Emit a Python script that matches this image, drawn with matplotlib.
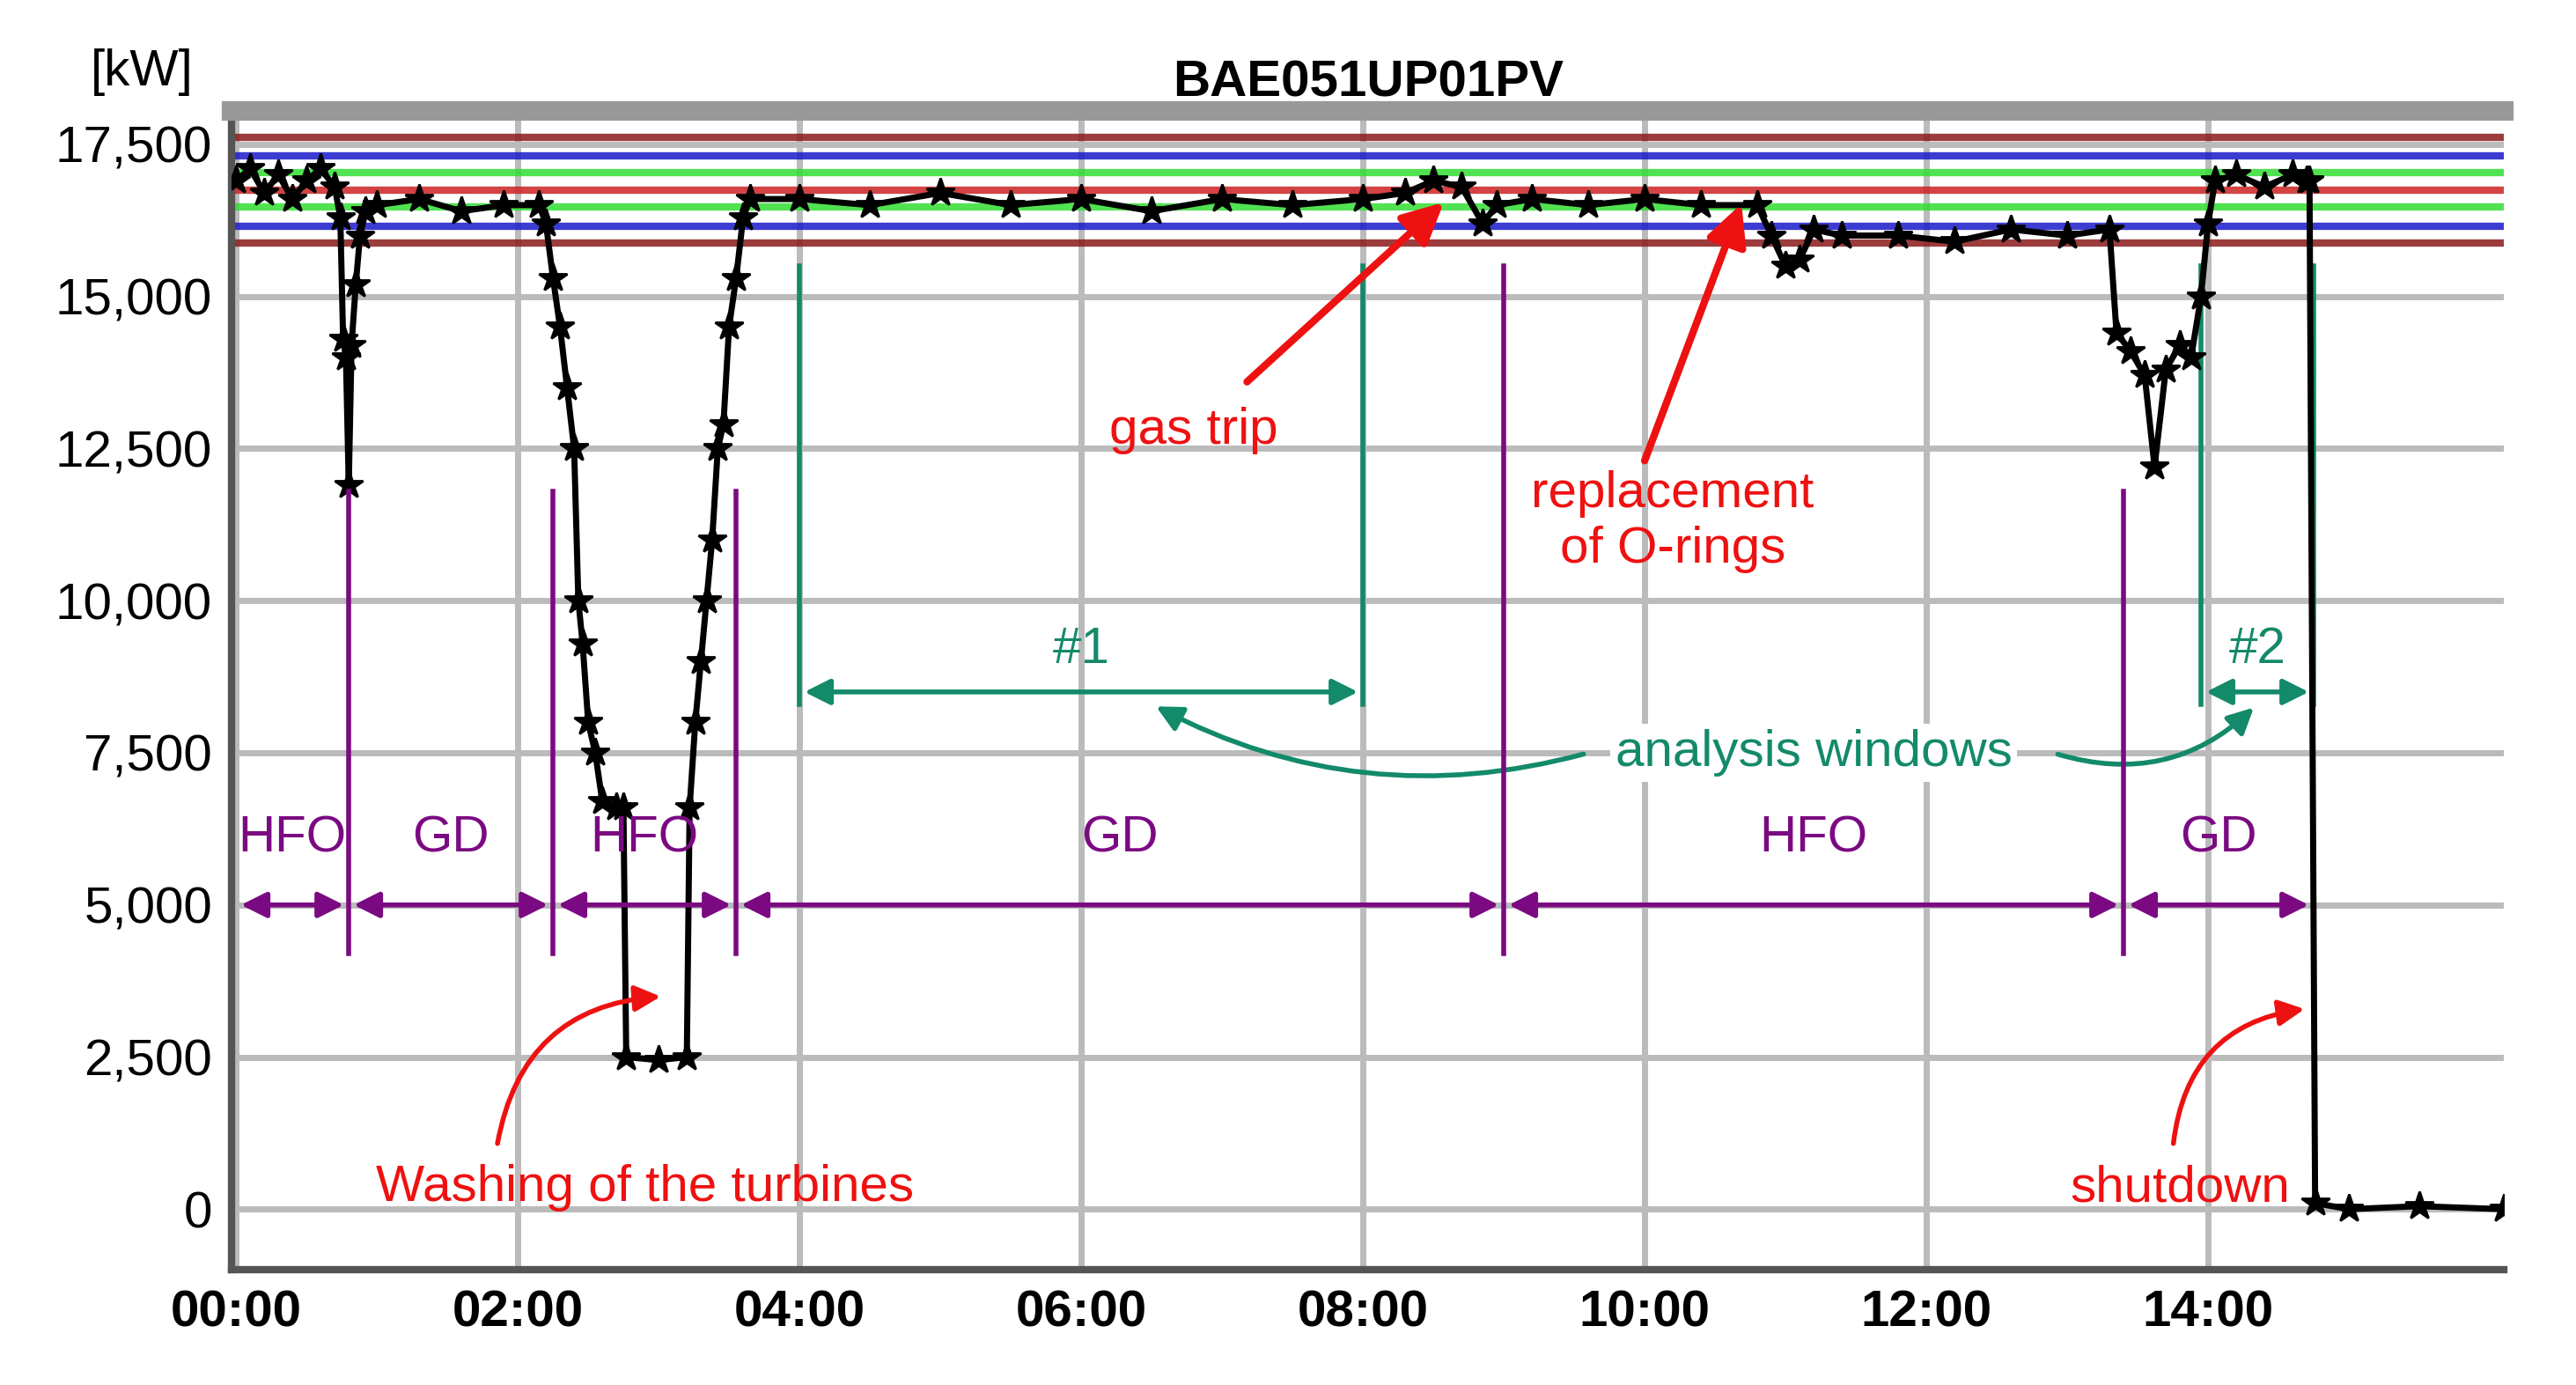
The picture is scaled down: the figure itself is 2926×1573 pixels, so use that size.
import matplotlib.pyplot as plt

# power trace [h, kW]
t_power = [0.0, 0.1, 0.2, 0.3, 0.4, 0.5, 0.6, 0.7, 0.74, 0.76, 0.78, 0.8, 0.82, 0.85, 0.88, 0.92,
           1.0, 1.3, 1.6, 1.9, 2.15, 2.2, 2.25, 2.3, 2.35, 2.4, 2.43, 2.46, 2.5, 2.55, 2.6, 2.7,
           2.75, 2.77, 3.0, 3.2, 3.22, 3.26, 3.3, 3.34, 3.38, 3.42, 3.46, 3.5, 3.55, 3.6, 3.65,
           4.0, 4.5, 5.0, 5.5, 6.0, 6.5, 7.0, 7.5, 8.0, 8.3, 8.5, 8.7, 8.85, 8.95, 9.2, 9.6,
           10.0, 10.4, 10.8, 10.9, 11.0, 11.1, 11.2, 11.4, 11.8, 12.2, 12.6, 13.0, 13.3, 13.35,
           13.45, 13.55, 13.62, 13.7, 13.8, 13.88, 13.95, 14.0, 14.05, 14.2, 14.4, 14.6, 14.7,
           14.72, 14.76, 15.0, 15.5, 16.1]
p_power = [16900, 17100, 16700, 17000, 16600, 16900, 17100, 16800, 16300, 14300, 14000, 11900, 14200, 15200, 16000, 16400,
           16500, 16600, 16400, 16500, 16500, 16200, 15300, 14500, 13500, 12500, 10000, 9300, 8000, 7500, 6700, 6600,
           6600, 2500, 2450, 2500, 6600, 8000, 9000, 10000, 11000, 12500, 12900, 14500, 15300, 16300, 16600,
           16600, 16500, 16700, 16500, 16600, 16400, 16600, 16500, 16600, 16700, 16900, 16800, 16200, 16500, 16600, 16500,
           16600, 16500, 16500, 16000, 15500, 15600, 16100, 16000, 16000, 15900, 16100, 16000, 16100, 14400,
           14100, 13700, 12200, 13800, 14200, 14000, 15000, 16200, 16900, 17000, 16800, 17000, 16900,
           16900, 100, 0, 50, 0]

# limit lines [kW] and colours
limit_vals = [17610, 17310, 17040, 16740, 16470, 16150, 15880]
limit_cols = ["#8b1a1a", "#1a1acc", "#33dd33", "#cc2222", "#33dd33", "#1a1acc", "#8b1a1a"]

# fuel segments
fuel_bounds = [0.0, 0.8, 2.25, 3.55, 9.0, 13.4, 14.75]
fuel_labels = ["HFO", "GD", "HFO", "GD", "HFO", "GD"]
fuel_line_tops = [11800, 11800, 11800, 15500, 11800]

xtick_labels = ["00:00", "02:00", "04:00", "06:00", "08:00", "10:00", "12:00", "14:00"]
ytick_vals = [0, 2500, 5000, 7500, 10000, 12500, 15000, 17500]

purple = "#7b0a82"
green = "#138a6a"
fs = 21

plt.rcParams['font.family'] = ['Liberation Sans', 'DejaVu Sans']
fig = plt.figure(figsize=(14.63, 7.865), dpi=200)
ax = fig.add_axes([0.09, 0.083, 0.882, 0.837])

for v, c in zip(limit_vals, limit_cols):
    ax.axhline(v, color=c, lw=3, alpha=0.85, zorder=2)

ax.plot(t_power, p_power, color="black", lw=2.5, marker="*", markersize=12, zorder=3)

# fuel arrows
for i, lab in enumerate(fuel_labels):
    a, b = fuel_bounds[i], fuel_bounds[i + 1]
    ax.annotate("", xy=(b, 5000), xytext=(a, 5000),
                arrowprops=dict(arrowstyle="<|-|>", color=purple, lw=2, mutation_scale=22))
    ax.text((a + b) / 2, 5700, lab, color=purple, fontsize=fs, ha="center", va="bottom")
for x, top in zip(fuel_bounds[1:-1], fuel_line_tops):
    ax.plot([x, x], [4200, top], color=purple, lw=2, zorder=4)

# analysis windows
for x0, x1, lab in [(4.0, 8.0, "#1"), (13.95, 14.75, "#2")]:
    ax.plot([x0, x0], [8300, 15500], color=green, lw=2)
    ax.plot([x1, x1], [8300, 15500], color=green, lw=2)
    ax.annotate("", xy=(x1, 8500), xytext=(x0, 8500),
                arrowprops=dict(arrowstyle="<|-|>", color=green, lw=2, mutation_scale=22))
    ax.text((x0 + x1) / 2, 8800, lab, color=green, fontsize=fs, ha="center", va="bottom")
ax.text(11.2, 7500, "analysis windows", color=green, fontsize=fs, ha="center", va="center",
        bbox=dict(fc="white", ec="none", pad=2), zorder=6)
ax.annotate("", xy=(6.5, 8300), xytext=(9.6, 7500),
            arrowprops=dict(arrowstyle="-|>", color=green, lw=2, mutation_scale=22,
                            connectionstyle="arc3,rad=-0.2"))
ax.annotate("", xy=(14.35, 8300), xytext=(12.9, 7500),
            arrowprops=dict(arrowstyle="-|>", color=red if False else green, lw=2, mutation_scale=22,
                            connectionstyle="arc3,rad=0.3"))

# red notes
red = "#ee1111"
ax.annotate("gas trip", xy=(8.6, 16600), xytext=(6.8, 12800), color=red, fontsize=fs,
            ha="center", va="center",
            arrowprops=dict(arrowstyle="-|>", color=red, lw=3, mutation_scale=35, shrinkA=12))
ax.text(10.2, 11300, "replacement\nof O-rings", color=red, fontsize=fs, ha="center", va="center")
ax.annotate("", xy=(10.7, 16600), xytext=(10.0, 12300),
            arrowprops=dict(arrowstyle="-|>", color=red, lw=3, mutation_scale=35, shrinkA=0))
ax.text(2.9, 350, "Washing of the turbines", color=red, fontsize=fs, ha="center", va="center")
ax.annotate("", xy=(3.05, 3500), xytext=(1.85, 1000),
            arrowprops=dict(arrowstyle="-|>", color=red, lw=2, mutation_scale=22,
                            connectionstyle="arc3,rad=-0.4"))
ax.text(13.8, 350, "shutdown", color=red, fontsize=fs, ha="center", va="center")
ax.annotate("", xy=(14.72, 3300), xytext=(13.75, 1000),
            arrowprops=dict(arrowstyle="-|>", color=red, lw=2, mutation_scale=22,
                            connectionstyle="arc3,rad=-0.4"))

ax.set_xlim(-0.03, 16.1)
ax.set_ylim(-1000, 18050)
ax.set_xticks(range(0, 16, 2))
ax.set_xticklabels(xtick_labels, fontsize=fs, fontweight="bold")
ax.set_yticks(ytick_vals)
ax.set_yticklabels([f"{v:,}" for v in ytick_vals], fontsize=fs)
ax.tick_params(length=0, pad=8)
ax.grid(color="#bbbbbb", lw=2.5)
ax.set_axisbelow(True)
for s in ["left", "bottom"]:
    ax.spines[s].set_color("#555555")
    ax.spines[s].set_linewidth(3)
ax.spines["top"].set_color("#999999")
ax.spines["top"].set_linewidth(8)
ax.spines["right"].set_visible(False)

ax.set_title("BAE051UP01PV", fontsize=fs, fontweight="bold", pad=6)
fig.text(0.055, 0.965, "[kW]", fontsize=fs, ha="center", va="top")

fig.savefig("out.png", dpi=200)
